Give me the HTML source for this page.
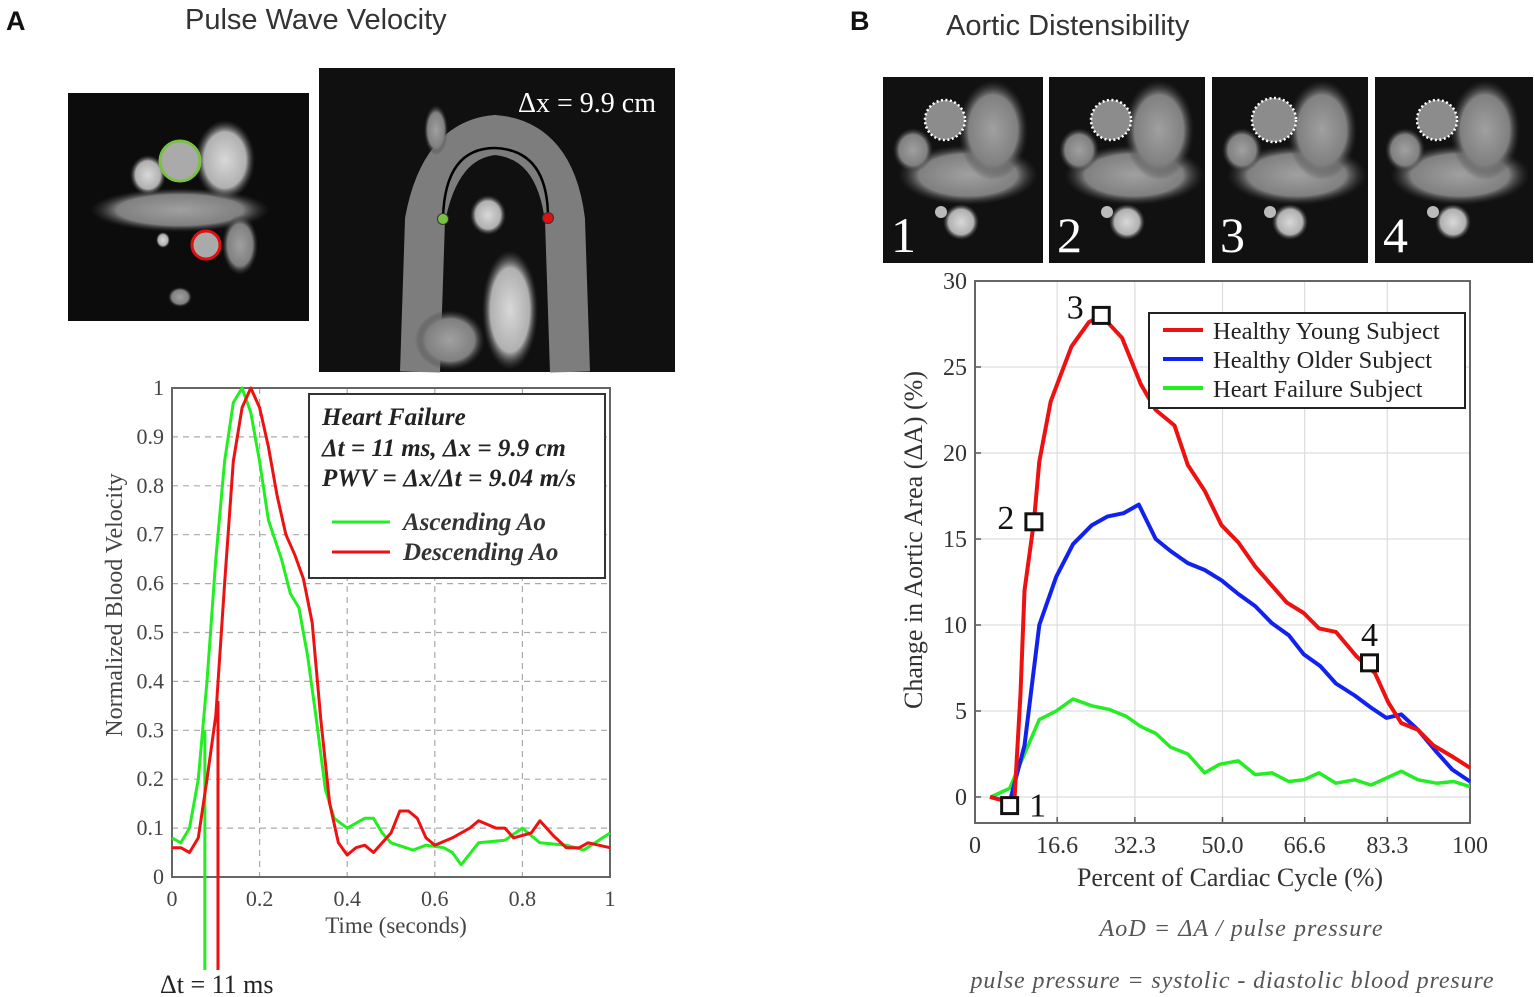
<!DOCTYPE html>
<html><head><meta charset="utf-8"><style>
body{margin:0;background:#fff}
svg{display:block}
.serif{font-family:"Liberation Serif",serif}
.sans{font-family:"Liberation Sans",sans-serif}
</style></head><body>
<svg id="fig" width="1535" height="997" viewBox="0 0 1535 997" xmlns="http://www.w3.org/2000/svg">
<defs>
<radialGradient id="blob" cx="50%" cy="50%" r="50%"><stop offset="0" stop-color="#d8d8d8"/><stop offset="0.7" stop-color="#b0b0b0"/><stop offset="1" stop-color="#444" stop-opacity="0"/></radialGradient>
<radialGradient id="blob2" cx="50%" cy="50%" r="50%"><stop offset="0" stop-color="#a0a0a0"/><stop offset="0.7" stop-color="#808080"/><stop offset="1" stop-color="#333" stop-opacity="0"/></radialGradient>
</defs>
<text x="6" y="30" class="sans" font-size="27" font-weight="bold" fill="#111">A</text>
<text x="185" y="29" class="sans" font-size="29" fill="#333">Pulse Wave Velocity</text>
<g>
<rect x="68" y="93" width="241" height="228" fill="#0c0c0c"/>
<ellipse cx="180" cy="210" rx="90" ry="22" fill="url(#blob2)"/>
<ellipse cx="225" cy="160" rx="30" ry="40" fill="url(#blob)"/>
<ellipse cx="148" cy="175" rx="18" ry="20" fill="url(#blob)"/>
<ellipse cx="240" cy="245" rx="18" ry="30" fill="url(#blob2)"/>
<ellipse cx="180" cy="297" rx="12" ry="10" fill="url(#blob2)"/>
<ellipse cx="163" cy="240" rx="7" ry="8" fill="url(#blob)"/>
<circle cx="180" cy="161" r="20" fill="#aaa" stroke="#7ac143" stroke-width="3"/>
<circle cx="206" cy="245" r="14" fill="#aaa" stroke="#e01010" stroke-width="3"/>
</g>
<g>
<rect x="319" y="68" width="356" height="304" fill="#101010"/>
<path d="M420 372 L425 220 Q440 140 495 135 Q555 140 565 220 L570 372" fill="none" stroke="#8a8a8a" stroke-width="40" opacity="0.9"/>
<ellipse cx="488" cy="215" rx="18" ry="20" fill="url(#blob)"/>
<ellipse cx="510" cy="310" rx="28" ry="60" fill="url(#blob)"/>
<ellipse cx="450" cy="340" rx="35" ry="30" fill="url(#blob2)"/>
<ellipse cx="436" cy="130" rx="12" ry="25" fill="url(#blob2)"/>
<path d="M443 218 Q445 148 495 148 Q548 150 548 218" fill="none" stroke="#000" stroke-width="2.5"/>
<circle cx="443" cy="219" r="5.5" fill="#7ac143" stroke="#333"/>
<circle cx="548" cy="218" r="5.5" fill="#e01010" stroke="#333"/>
<text x="518" y="112" class="serif" font-size="28" fill="#fff">Δx = 9.9 cm</text>
</g>

<g id="chartA"></g>
<text x="396" y="933" text-anchor="middle" class="serif" font-size="23" fill="#444">Time (seconds)</text>
<text transform="translate(122,605) rotate(-90)" text-anchor="middle" class="serif" font-size="24" fill="#444">Normalized Blood Velocity</text>
<g>
<rect x="309" y="394" width="296" height="184" fill="#fff" stroke="#333" stroke-width="2"/>
<text x="322" y="425" class="serif" font-size="25" font-style="italic" font-weight="bold" fill="#222">Heart Failure</text>
<text x="322" y="456" class="serif" font-size="25" font-style="italic" font-weight="bold" fill="#222">Δt = 11 ms, Δx = 9.9 cm</text>
<text x="322" y="486" class="serif" font-size="25" font-style="italic" font-weight="bold" fill="#222" textLength="254">PWV = Δx/Δt = 9.04 m/s</text>
<line x1="332" y1="522" x2="390" y2="522" stroke="#22ee22" stroke-width="3"/>
<text x="403" y="530" class="serif" font-size="25" font-style="italic" font-weight="bold" fill="#333">Ascending Ao</text>
<line x1="332" y1="552" x2="390" y2="552" stroke="#ee1111" stroke-width="3"/>
<text x="403" y="560" class="serif" font-size="25" font-style="italic" font-weight="bold" fill="#333">Descending Ao</text>
</g>
<text x="160" y="993" class="serif" font-size="26" fill="#222">Δt = 11 ms</text>

<text x="850" y="30" class="sans" font-size="27" font-weight="bold" fill="#111">B</text>
<text x="946" y="35" class="sans" font-size="29" fill="#333">Aortic Distensibility</text>
<g id="strip"></g>

<g id="chartB"></g>
<text x="1230" y="886" text-anchor="middle" class="serif" font-size="26" fill="#333">Percent of Cardiac Cycle (%)</text>
<text transform="translate(922,540) rotate(-90)" text-anchor="middle" class="serif" font-size="26" fill="#333">Change in Aortic Area (ΔA) (%)</text>
<g>
<rect x="1149" y="313" width="316" height="95" fill="#fff" stroke="#222" stroke-width="2"/>
<line x1="1163" y1="330" x2="1203" y2="330" stroke="#ee1111" stroke-width="4"/>
<text x="1213" y="339" class="serif" font-size="24.5" fill="#222">Healthy Young Subject</text>
<line x1="1163" y1="359" x2="1203" y2="359" stroke="#1122ee" stroke-width="4"/>
<text x="1213" y="368" class="serif" font-size="24.5" fill="#222">Healthy Older Subject</text>
<line x1="1163" y1="388" x2="1203" y2="388" stroke="#22ee22" stroke-width="4"/>
<text x="1213" y="397" class="serif" font-size="24.5" fill="#222">Heart Failure Subject</text>
</g>
<text x="1241" y="936" text-anchor="middle" class="serif" font-size="24" font-style="italic" fill="#555" textLength="283">AoD = ΔA / pulse pressure</text>
<text x="1232" y="988" text-anchor="middle" class="serif" font-size="24" font-style="italic" fill="#555" textLength="523">pulse pressure = systolic  - diastolic blood presure</text>
</svg>
<script>
const tAsc = [0,0.02,0.04,0.06,0.08,0.1,0.12,0.14,0.16,0.18,0.2,0.22,0.25,0.27,0.29,0.31,0.33,0.35,0.37,0.4,0.42,0.44,0.46,0.48,0.5,0.55,0.58,0.62,0.64,0.66,0.7,0.76,0.8,0.84,0.9,0.94,1.0];
const vAsc = [0.08,0.07,0.1,0.2,0.4,0.65,0.85,0.97,1.0,0.95,0.85,0.73,0.65,0.58,0.55,0.45,0.32,0.18,0.12,0.1,0.11,0.12,0.12,0.09,0.07,0.055,0.065,0.06,0.05,0.025,0.07,0.075,0.1,0.07,0.065,0.055,0.09];
const tDesc = [0,0.02,0.04,0.06,0.08,0.1,0.12,0.14,0.16,0.18,0.2,0.22,0.24,0.26,0.28,0.3,0.32,0.34,0.36,0.38,0.4,0.42,0.44,0.46,0.5,0.52,0.54,0.56,0.58,0.6,0.64,0.68,0.7,0.74,0.76,0.78,0.8,0.82,0.84,0.87,0.9,0.93,0.95,1.0];
const vDesc = [0.06,0.06,0.05,0.08,0.2,0.33,0.6,0.85,0.96,1.0,0.96,0.88,0.78,0.7,0.66,0.61,0.52,0.32,0.15,0.07,0.045,0.06,0.065,0.05,0.09,0.135,0.135,0.12,0.08,0.065,0.08,0.1,0.115,0.1,0.1,0.08,0.085,0.09,0.115,0.085,0.06,0.06,0.07,0.06];
const xTicksA = [0,0.2,0.4,0.6,0.8,1];
const xTickLabelsA = ["0","0.2","0.4","0.6","0.8","1"];
const yTicksA = [0,0.1,0.2,0.3,0.4,0.5,0.6,0.7,0.8,0.9,1];
const yTickLabelsA = ["0","0.1","0.2","0.3","0.4","0.5","0.6","0.7","0.8","0.9","1"];
const markerTimes = [0.075,0.105];
const markerLevels = [0.3,0.36];
const xRed = [3,7,8,9.2,10,11.9,13,15.3,19.5,23,25.5,29.7,33.5,36.5,40.3,43,46.4,49.8,53.2,56.6,63,66.4,69.5,72.9,77,80.8,83.5,86.1,89.5,92.6,96.7,100];
const yRed = [0,-0.3,0,6,12,16,19.5,23,26.2,27.6,28,26.7,24,22.5,21.6,19.3,17.8,15.8,14.8,13.4,11.3,10.7,9.8,9.6,8.2,7.2,5.5,4.3,3.9,3.0,2.3,1.7];
const xBlue = [3.2,7,10,13,16.4,19.8,23.6,26.7,30,33.1,36.5,39.5,43,46.4,49.8,53.2,56.6,60,63.4,66.4,69.8,72.9,76.7,80,83.1,86.1,89.5,93.3,96.4,100];
const yBlue = [0,-0.3,3,10,12.8,14.7,15.8,16.3,16.5,17,15,14.3,13.6,13.2,12.6,11.8,11.1,10.1,9.4,8.3,7.6,6.6,5.9,5.2,4.6,4.8,3.9,2.6,1.6,0.9];
const xGreen = [3.2,7,10,13,16.4,19.8,23.6,27,30.5,33.5,36.5,39.5,43,46.4,49.4,53.2,56.6,60,63.4,66.4,69.5,72.9,76.7,80,83.1,86.1,89.5,93.3,96.7,100];
const yGreen = [0,0.5,2.5,4.5,5,5.7,5.3,5.1,4.7,4.1,3.7,2.9,2.5,1.4,1.9,2.1,1.3,1.4,0.9,1.0,1.4,0.8,1.0,0.7,1.1,1.5,1.0,0.8,0.9,0.6];
const markerX = [7,11.9,25.5,79.7];
const markerY = [-0.5,16,28,7.8];
const markerLabels = ["1","2","3","4"];
const xTicksB = [0,16.6,32.3,50,66.6,83.3,100];
const xTickLabelsB = ["0","16.6","32.3","50.0","66.6","83.3","100"];
const yTicksB = [0,5,10,15,20,25,30];
const yTickLabelsB = ["0","5","10","15","20","25","30"];

const NS="http://www.w3.org/2000/svg";
function mk(parent,tag,attrs,text){const e=document.createElementNS(NS,tag);for(const k in attrs)e.setAttribute(k,attrs[k]);if(text!==undefined)e.textContent=text;parent.appendChild(e);return e;}
function pathFrom(xs,ys,sx,sy){return xs.map((x,i)=>(i?'L':'M')+sx(x).toFixed(1)+' '+sy(ys[i]).toFixed(1)).join(' ');}

(function(){
const g=document.getElementById('chartA');
const L=172,R=610,T=388,B=877;
const sx=v=>L+v*(R-L);
const sy=v=>B-v*(B-T);
mk(g,'rect',{x:L,y:T,width:R-L,height:B-T,fill:'#fff'});
xTicksA.forEach((v,i)=>{
 if(v>0&&v<1){const l=mk(g,'line',{x1:sx(v),x2:sx(v),y1:T,y2:B,stroke:'#aaa','stroke-dasharray':'6 5','stroke-width':1.2});
 
 }
 const t=mk(g,'text',{x:sx(v),y:B+29,'text-anchor':'middle','font-family':'"Liberation Serif",serif','font-size':22,fill:'#444'},xTickLabelsA[i]);
 
 
});
yTicksA.forEach((v,i)=>{
 if(v>0&&v<1){const l=mk(g,'line',{x1:L,x2:R,y1:sy(v),y2:sy(v),stroke:'#aaa','stroke-dasharray':'6 5','stroke-width':1.2});
 
 }
 const t=mk(g,'text',{x:L-8,y:sy(v)+7,'text-anchor':'end','font-family':'"Liberation Serif",serif','font-size':22,fill:'#444'},yTickLabelsA[i]);
 
 
});
mk(g,'rect',{x:L,y:T,width:R-L,height:B-T,fill:'none',stroke:'#666','stroke-width':2});
const m1=mk(g,'line',{x1:sx(markerTimes[0]),x2:sx(markerTimes[0]),y1:sy(markerLevels[0]),y2:970,stroke:'#22ee22','stroke-width':3});


const m2=mk(g,'line',{x1:sx(markerTimes[1]),x2:sx(markerTimes[1]),y1:sy(markerLevels[1]),y2:970,stroke:'#ee1111','stroke-width':3});


const p1=mk(g,'path',{d:pathFrom(tAsc,vAsc,sx,sy),fill:'none',stroke:'#22ee22','stroke-width':3,'stroke-linejoin':'round'});


const p2=mk(g,'path',{d:pathFrom(tDesc,vDesc,sx,sy),fill:'none',stroke:'#ee1111','stroke-width':3,'stroke-linejoin':'round'});


})();

(function(){
const g=document.getElementById('chartB');
const L=975,R=1470,T=281,B=823;
const sx=v=>L+v/100*(R-L);
const sy=v=>797-v/30*(797-T);
xTicksB.forEach((v,i)=>{
 if(v>0&&v<100){const l=mk(g,'line',{x1:sx(v),x2:sx(v),y1:T,y2:B,stroke:'#ddd','stroke-width':1.2});
 
 
 mk(g,'line',{x1:sx(v),x2:sx(v),y1:B,y2:B-6,stroke:'#555','stroke-width':1.5});}
 const t=mk(g,'text',{x:sx(v),y:B+30,'text-anchor':'middle','font-family':'"Liberation Serif",serif','font-size':24,fill:'#333'},xTickLabelsB[i]);
 
 
});
yTicksB.forEach((v,i)=>{
 if(v<30){const l=mk(g,'line',{x1:L,x2:R,y1:sy(v),y2:sy(v),stroke:'#ddd','stroke-width':1.2});
 
 
 mk(g,'line',{x1:L,x2:L+6,y1:sy(v),y2:sy(v),stroke:'#555','stroke-width':1.5});}
 const t=mk(g,'text',{x:L-8,y:sy(v)+8,'text-anchor':'end','font-family':'"Liberation Serif",serif','font-size':24,fill:'#333'},yTickLabelsB[i]);
 
 
});
mk(g,'rect',{x:L,y:T,width:R-L,height:B-T,fill:'none',stroke:'#666','stroke-width':2});
const pg=mk(g,'path',{d:pathFrom(xGreen,yGreen,sx,sy),fill:'none',stroke:'#22ee22','stroke-width':3.5,'stroke-linejoin':'round'});


const pb=mk(g,'path',{d:pathFrom(xBlue,yBlue,sx,sy),fill:'none',stroke:'#1122ee','stroke-width':4,'stroke-linejoin':'round'});


const pr=mk(g,'path',{d:pathFrom(xRed,yRed,sx,sy),fill:'none',stroke:'#ee1111','stroke-width':4,'stroke-linejoin':'round'});


const offs=[[28,0],[-28,-4],[-26,-8],[0,-28]];
markerX.forEach((x,i)=>{
 const r=mk(g,'rect',{x:sx(x)-8,y:sy(markerY[i])-8,width:16,height:16,fill:'#fff',stroke:'#111','stroke-width':3});
 
 
 const t=mk(g,'text',{x:sx(x)+offs[i][0],y:sy(markerY[i])+offs[i][1]+11,'text-anchor':'middle','font-family':'"Liberation Serif",serif','font-size':34,fill:'#111'},markerLabels[i]);
 
 
});
})();

(function(){
const g=document.getElementById('strip');
const xs=[883,1049,1212,1375], ws=[160,156,156,158];
xs.forEach((x,i)=>{
 const f=mk(g,'g',{});
 
 
 mk(f,'rect',{x:x,y:77,width:ws[i],height:186,fill:'#111'});
 mk(f,'ellipse',{cx:x+85,cy:175,rx:70,ry:30,fill:'url(#blob2)'});
 mk(f,'ellipse',{cx:x+110,cy:130,rx:35,ry:50,fill:'url(#blob2)'});
 mk(f,'ellipse',{cx:x+30,cy:150,rx:20,ry:22,fill:'url(#blob2)'});
 mk(f,'ellipse',{cx:x+78,cy:222,rx:18,ry:18,fill:'url(#blob)'});
 mk(f,'circle',{cx:x+58,cy:212,r:6,fill:'#bbb'});
 mk(f,'circle',{cx:x+62,cy:120,r:20+(i===2?2:0),fill:'#8c8c8c',stroke:'#fff','stroke-width':2.5,'stroke-dasharray':'2 2.5'});
 mk(f,'text',{x:x+8,y:252,'font-family':'"Liberation Serif",serif','font-size':50,fill:'#fff'},String(i+1));
});
})();
</script>
</body></html>
